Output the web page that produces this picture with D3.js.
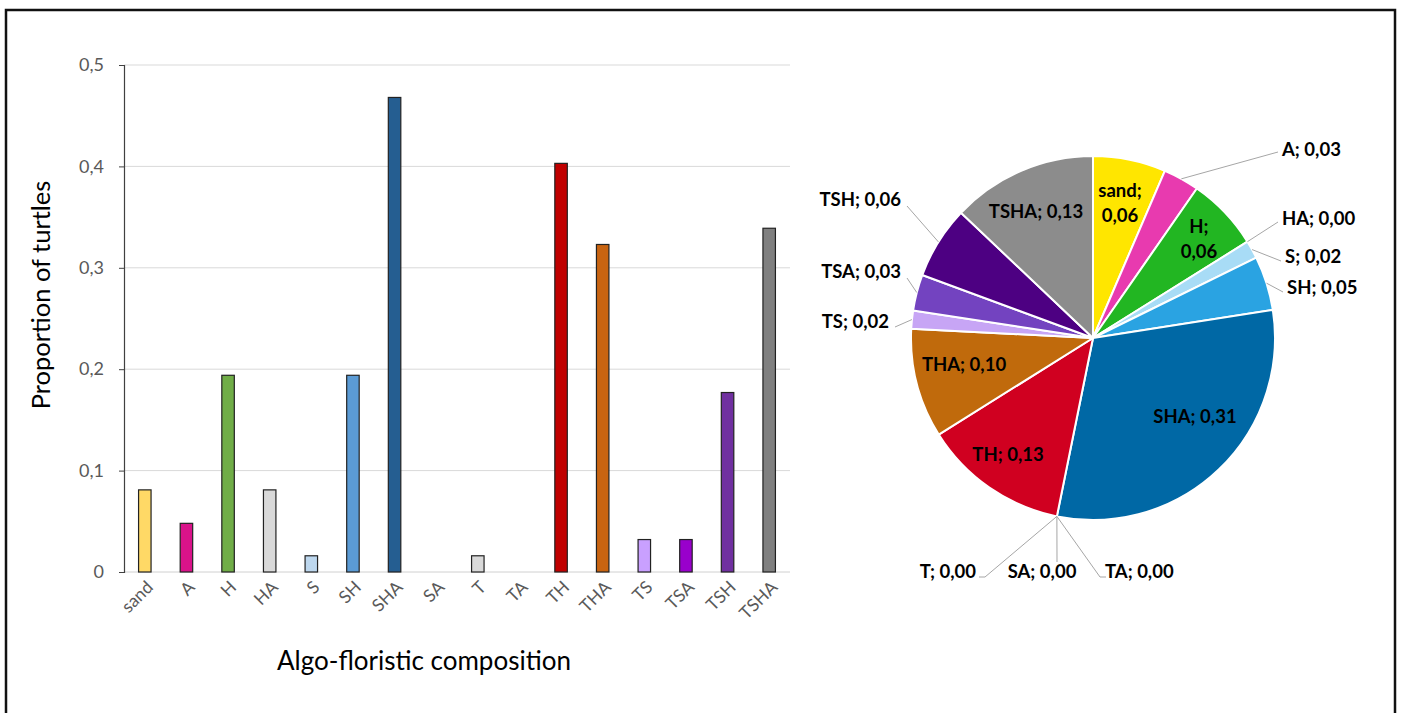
<!DOCTYPE html>
<html><head><meta charset="utf-8">
<script src="https://cdn.jsdelivr.net/npm/d3@7"></script>
<style>
html,body{margin:0;padding:0;background:#fff;}
svg{display:block;font-family:Lato,"Open Sans",sans-serif;}
</style></head>
<body>
<svg id="chart" width="1403" height="713"></svg>
<script>
// ---------- data ----------
const categories = ["sand","A","H","HA","S","SH","SHA","SA","T","TA","TH","THA","TS","TSA","TSH","TSHA"];
const barValues  = [0.081,0.048,0.194,0.081,0.016,0.194,0.468,0,0.016,0,0.403,0.323,0.032,0.032,0.177,0.339];
const pieValues  = [0.0645,0.032,0.0645,0,0.016,0.048,0.306,0,0,0,0.129,0.097,0.016,0.032,0.0645,0.129];
const yTicks     = [0,0.1,0.2,0.3,0.4,0.5];
const barColors  = ["#FFD966","#D9138A","#70AD47","#D9D9D9","#BDD7EE","#5B9BD5","#255E91","#A5A5A5","#D9D9D9","#A5A5A5","#C00000","#C86411","#C9A0FF","#9900CC","#7030A0","#808080"];
const pieColors  = ["#FFE600","#E83AAF","#22B622","#9FD8F5","#A8DCF6","#2AA3E2","#0068A5","#999999","#999999","#999999","#D00020","#C06A0C","#C7A5F5","#7343C0","#4D0082","#8C8C8C"];
const yTitle = "Proportion of turtles";
const xTitle = "Algo-floristic composition";

// label layout (pixel offsets from pie centre) - style/position config
const pieLabelLayout = {
  sand:{mode:"in", x:27,  y:-140, lines:2},
  A:   {mode:"out",x:187, y:-188, anchor:"start", lx:185, ly:-186},
  H:   {mode:"in", x:106, y:-104, lines:2},
  HA:  {mode:"out",x:187, y:-119, anchor:"start", lx:185, ly:-116, edge:"start"},
  S:   {mode:"out",x:190, y:-81,  anchor:"start", lx:188, ly:-77},
  SH:  {mode:"out",x:192, y:-50,  anchor:"start", lx:190, ly:-46},
  SHA: {mode:"in", x:102, y:79,   lines:1},
  SA:  {mode:"out",x:-51, y:234,  anchor:"middle", lx:-36, ly:224},
  T:   {mode:"out",x:-115,y:234,  anchor:"end", lx:-108, ly:239, hook:-6},
  TA:  {mode:"out",x:10,  y:234,  anchor:"start", lx:7, ly:239, hook:6},
  TH:  {mode:"in", x:-85, y:117,  lines:1},
  THA: {mode:"in", x:-129,y:27,   lines:1},
  TS:  {mode:"out",x:-202,y:-16,  anchor:"end", lx:-198, ly:-11},
  TSA: {mode:"out",x:-190,y:-66,  anchor:"end", lx:-186, ly:-60},
  TSH: {mode:"out",x:-190,y:-138, anchor:"end", lx:-186, ly:-132},
  TSHA:{mode:"in", x:-57, y:-126, lines:1}
};

const svg = d3.select("#chart");
const fmt = v => d3.format(".2f")(v).replace(".", ",");
const fmtTick = v => (v === 0 ? "0" : d3.format(".1f")(v).replace(".", ","));

// outer frame
svg.append("rect").attr("x",6).attr("y",10).attr("width",1389).attr("height",730)
  .attr("fill","none").attr("stroke","#111").attr("stroke-width",2.5);

// ---------- bar chart ----------
const bx = d3.scaleBand().domain(categories).range([124,790]).paddingInner(0.7).paddingOuter(0.35);
const by = d3.scaleLinear().domain([0,0.5]).range([572,65]);

// gridlines
svg.append("g").selectAll("line").data(yTicks.filter(d=>d>0)).join("line")
  .attr("x1",124).attr("x2",790).attr("y1",d=>by(d)).attr("y2",d=>by(d))
  .attr("stroke","#D9D9D9").attr("stroke-width",1);
// baseline
svg.append("line").attr("x1",124).attr("x2",790).attr("y1",by(0)).attr("y2",by(0))
  .attr("stroke","#D0D0D0").attr("stroke-width",1);

// bars
svg.append("g").selectAll("rect").data(categories.map((c,i)=>({c,v:barValues[i],col:barColors[i]})).filter(d=>d.v>0))
  .join("rect")
  .attr("x",d=>bx(d.c)).attr("width",bx.bandwidth())
  .attr("y",d=>by(d.v)).attr("height",d=>by(0)-by(d.v))
  .attr("fill",d=>d.col).attr("stroke","#222").attr("stroke-width",1.2);

// y axis
const yAxis = svg.append("g").attr("transform","translate(124,0)")
  .call(d3.axisLeft(by).tickValues(yTicks).tickFormat(fmtTick).tickSize(5).tickPadding(15));
yAxis.select(".domain").attr("stroke","#404040").attr("stroke-width",1.2);
yAxis.selectAll(".tick line").attr("stroke","#404040");
yAxis.selectAll(".tick text").attr("fill","#595959").style("font-size","18px").style("font-family","Lato, sans-serif");

// x labels
svg.append("g").selectAll("text").data(categories).join("text")
  .attr("transform",d=>`translate(${bx(d)+bx.bandwidth()/2+5},${584}) rotate(-45)`)
  .attr("text-anchor","end").attr("dy","0.35em")
  .attr("fill","#595959").style("font-size","17.5px")
  .text(d=>d);

// titles
svg.append("text").attr("transform","translate(50,295) rotate(-90)")
  .attr("text-anchor","middle").style("font-size","25.5px").attr("fill","#000").text(yTitle);
svg.append("text").attr("x",424).attr("y",670)
  .attr("text-anchor","middle").style("font-size","26px").attr("fill","#000").text(xTitle);

// ---------- pie chart ----------
const cx = 1093, cy = 338, R = 182;
const pieData = categories.map((c,i)=>({c, v:pieValues[i], col:pieColors[i]}));
const arcs = d3.pie().sort(null).value(d=>d.v)(pieData);
const arc = d3.arc().innerRadius(0).outerRadius(R);
const pg = svg.append("g").attr("transform",`translate(${cx},${cy})`);
pg.selectAll("path").data(arcs.filter(a=>a.data.v>0)).join("path")
  .attr("d",arc).attr("fill",d=>d.data.col)
  .attr("stroke","#fff").attr("stroke-width",2).attr("stroke-linejoin","round");

// leader lines + labels
const labelG = pg.append("g").style("font-weight","700").style("font-size","18.5px").attr("fill","#000");
arcs.forEach(a=>{
  const L = pieLabelLayout[a.data.c];
  const txt = a.data.c + "; " + fmt(a.data.v);
  if (L.mode === "in") {
    if (L.lines === 2) {
      const t = labelG.append("text").attr("text-anchor","middle").attr("x",L.x).attr("y",L.y);
      t.append("tspan").attr("x",L.x).attr("dy","-0.05em").text(a.data.c + ";");
      t.append("tspan").attr("x",L.x).attr("dy","1.35em").text(fmt(a.data.v));
    } else {
      labelG.append("text").attr("text-anchor","middle").attr("x",L.x).attr("y",L.y)
        .attr("dy","0.35em").text(txt);
    }
  } else {
    const ang = L.edge === "start" ? a.startAngle : (a.startAngle + a.endAngle)/2;
    const ex = R*Math.sin(ang), ey = -R*Math.cos(ang);
    const pts = [[ex,ey],[L.lx,L.ly]];
    if (L.hook) pts.push([L.lx + L.hook, L.ly]);
    pg.append("path").attr("d",d3.line()(pts)).attr("fill","none")
      .attr("stroke","#A6A6A6").attr("stroke-width",1);
    labelG.append("text").attr("text-anchor",L.anchor).attr("x",L.x + (L.anchor==="start"?2:L.anchor==="end"?-2:0)).attr("y",L.y)
      .attr("dy","0.35em").text(txt);
  }
});
</script>
</body></html>
